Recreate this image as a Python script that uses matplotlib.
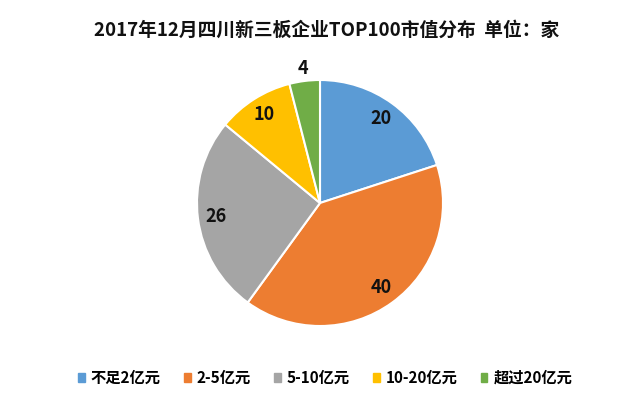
import numpy as np
import matplotlib
matplotlib.use("Agg")
import matplotlib.pyplot as plt

plt.rcParams['font.family'] = ['Noto Sans CJK SC', 'DejaVu Sans']

# === DATA ====================================================================
categories = ["不足2亿元", "2-5亿元", "5-10亿元", "10-20亿元", "超过20亿元"]
counts = [20, 40, 26, 10, 4]
colors = ["#5B9BD5", "#ED7D31", "#A5A5A5", "#FFC000", "#70AD47"]
title = "2017年12月四川新三板企业TOP100市值分布  单位：家"
# ============================================================================

fig = plt.figure(figsize=(6.4, 3.99), dpi=100)

# pie centred at ~(320, 203) px, radius ~123 px
cx, cy, r = 320, 203, 123
ax = fig.add_axes([(cx - r) / 640, (399 - cy - r) / 399, 2 * r / 640, 2 * r / 399])

wedges, _ = ax.pie(counts, colors=colors, startangle=90, counterclock=False,
                   wedgeprops=dict(edgecolor="white", linewidth=1.5))
ax.set_xlim(-1, 1)
ax.set_ylim(-1, 1)
ax.set_aspect("equal")
ax.axis("off")

# data labels (small last slice goes outside, like Excel best fit)
total = sum(counts)
start = 90.0
for v in counts:
    span = 360.0 * v / total
    mid = np.deg2rad(start - span / 2)
    dist = 0.85 if v >= 8 else 1.1
    ax.text(dist * np.cos(mid), dist * np.sin(mid), str(v), ha="center", va="center",
            fontsize=13, fontweight="bold", color="#111111")
    start -= span

fig.text(0.510, 0.925, title, ha="center", va="center", fontsize=13.5,
         fontweight="bold", color="#111111")

handles = [plt.Rectangle((0, 0), 1, 1, color=c) for c in colors]
fig.legend(handles, categories, loc="center", bbox_to_anchor=(0.508, 0.053), ncol=5,
           frameon=False, handlelength=0.45, handleheight=0.45, handletextpad=0.4,
           columnspacing=1.5, prop=dict(size=11, weight="bold"))

fig.savefig("out.png", dpi=100, facecolor="white")
